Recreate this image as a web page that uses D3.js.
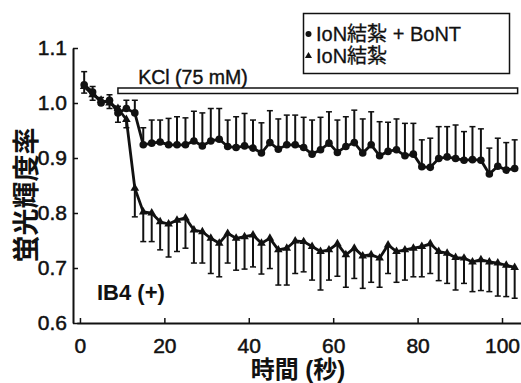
<!DOCTYPE html>
<html>
<head>
<meta charset="utf-8">
<script src="https://cdn.jsdelivr.net/npm/d3@7"></script>
<style>
  body { margin: 0; background: #fff; }
  text { font-family: "Liberation Sans", Arial, "Noto Sans CJK JP", sans-serif; fill: #111; }
</style>
</head>
<body>
<svg width="521" height="383"></svg>
<script>
// time (s)
const time = [1, 3, 5, 7, 9, 11, 13, 15, 17, 19, 21, 23, 25, 27, 29, 31, 33, 35, 37, 39,
  41, 43, 45, 47, 49, 51, 53, 55, 57, 59, 61, 63, 65, 67, 69, 71, 73, 75, 77, 79,
  81, 83, 85, 87, 89, 91, 93, 95, 97, 99, 101, 103];

// IoN結紮 + BoNT (circles), error bars drawn upward
const bontMean = [1.033, 1.02, 1.0, 1.005, 0.982, 0.99, 0.982, 0.924, 0.927, 0.929,
  0.924, 0.924, 0.924, 0.931, 0.922, 0.931, 0.934, 0.921, 0.919, 0.922,
  0.918, 0.909, 0.928, 0.916, 0.924, 0.924, 0.919, 0.907, 0.915, 0.927,
  0.91, 0.921, 0.928, 0.909, 0.924, 0.904, 0.912, 0.915, 0.904, 0.907,
  0.884, 0.883, 0.899, 0.902, 0.899, 0.896, 0.897, 0.896, 0.871, 0.885,
  0.878, 0.881];
const bontErr = [0.024, 0.01, 0.01, 0.01, 0.012, 0.015, 0.023, 0.031, 0.042, 0.04,
  0.048, 0.051, 0.049, 0.054, 0.06, 0.059, 0.056, 0.048, 0.056, 0.059,
  0.051, 0.055, 0.058, 0.055, 0.054, 0.054, 0.055, 0.062, 0.059, 0.057,
  0.059, 0.054, 0.059, 0.062, 0.06, 0.062, 0.053, 0.056, 0.059, 0.056,
  0.049, 0.053, 0.058, 0.055, 0.061, 0.052, 0.06, 0.057, 0.047, 0.051,
  0.05, 0.052];

// IoN結紮 (triangles), error bars drawn downward
const ionMean = [1.03, 1.015, 1.005, 1.0, 0.99, 0.97, 0.845, 0.802, 0.8, 0.784,
  0.78, 0.787, 0.791, 0.769, 0.766, 0.754, 0.745, 0.763, 0.754, 0.757,
  0.76, 0.745, 0.754, 0.733, 0.736, 0.749, 0.748, 0.739, 0.73, 0.733,
  0.744, 0.724, 0.736, 0.722, 0.724, 0.718, 0.742, 0.73, 0.733, 0.736,
  0.739, 0.744, 0.73, 0.727, 0.719, 0.718, 0.711, 0.715, 0.711, 0.709,
  0.705, 0.701];
const ionErr = [0.012, 0.01, 0.008, 0.01, 0.025, 0.015, 0.052, 0.054, 0.052, 0.051,
  0.06, 0.057, 0.055, 0.06, 0.057, 0.064, 0.061, 0.054, 0.058, 0.059,
  0.058, 0.056, 0.055, 0.064, 0.067, 0.059, 0.055, 0.061, 0.07, 0.055,
  0.059, 0.059, 0.055, 0.059, 0.05, 0.053, 0.052, 0.056, 0.055, 0.052,
  0.055, 0.054, 0.053, 0.055, 0.059, 0.046, 0.054, 0.056, 0.054, 0.06,
  0.057, 0.056];

const xTicks = [0, 20, 40, 60, 80, 100];
const yTicks = [0.6, 0.7, 0.8, 0.9, 1.0, 1.1];
const kclSpan = [9, 103.7];
const legendLabels = ["IoN結紮 + BoNT", "IoN結紮"];

const svg = d3.select("svg");

const x = d3.scaleLinear().domain([-0.7, 104.5]).range([77, 521]);
const y = d3.scaleLinear().domain([0.6, 1.1]).range([323, 48]);

// axes, ticks pointing inward
const xAxis = svg.append("g")
    .attr("transform", "translate(0,323)")
    .call(d3.axisTop(x).tickValues(xTicks).tickSize(5).tickSizeOuter(0).tickFormat(d3.format("d")));
xAxis.selectAll("text").attr("y", 15).attr("dy", "0.71em");
const yAxis = svg.append("g")
    .attr("transform", "translate(73,0)")
    .call(d3.axisRight(y).tickValues(yTicks).tickSize(5).tickSizeOuter(0).tickFormat(d3.format(".1f")));
yAxis.selectAll("text").attr("x", -6).attr("text-anchor", "end");
svg.selectAll(".domain").attr("stroke", "#111").attr("stroke-width", 2);
svg.selectAll(".tick line").attr("stroke", "#111").attr("stroke-width", 1.5);
svg.selectAll(".tick text").attr("font-size", 21).attr("fill", "#111")
    .attr("stroke", "#111").attr("stroke-width", 0.5)
    .style("font-family", "'Liberation Sans', Arial, sans-serif");

const pts = time.map((t, i) => ({t, b: bontMean[i], be: bontErr[i], n: ionMean[i], ne: ionErr[i]}));

// error bars
const bars = svg.append("g").attr("stroke", "#111").attr("stroke-width", 2);
pts.forEach(p => {
  bars.append("line").attr("x1", x(p.t)).attr("x2", x(p.t))
      .attr("y1", y(p.b)).attr("y2", y(p.b + p.be));
  bars.append("line").attr("x1", x(p.t) - 3).attr("x2", x(p.t) + 3)
      .attr("y1", y(p.b + p.be)).attr("y2", y(p.b + p.be)).attr("stroke-width", 1.5);
  bars.append("line").attr("x1", x(p.t)).attr("x2", x(p.t))
      .attr("y1", y(p.n)).attr("y2", y(p.n - p.ne));
  bars.append("line").attr("x1", x(p.t) - 3).attr("x2", x(p.t) + 3)
      .attr("y1", y(p.n - p.ne)).attr("y2", y(p.n - p.ne)).attr("stroke-width", 1.5);
});

// lines
svg.append("path").datum(pts)
    .attr("fill", "none").attr("stroke", "#111").attr("stroke-width", 2.8)
    .attr("d", d3.line().x(p => x(p.t)).y(p => y(p.b)));
svg.append("path").datum(pts)
    .attr("fill", "none").attr("stroke", "#111").attr("stroke-width", 2.8)
    .attr("d", d3.line().x(p => x(p.t)).y(p => y(p.n)));

// markers
svg.append("g").selectAll("circle").data(pts).enter().append("circle")
    .attr("cx", p => x(p.t)).attr("cy", p => y(p.b)).attr("r", 3.8).attr("fill", "#111");
const tri = d3.symbol().type(d3.symbolTriangle).size(32);
svg.append("g").selectAll("path").data(pts).enter().append("path")
    .attr("d", tri).attr("fill", "#111")
    .attr("transform", p => `translate(${x(p.t)},${y(p.n)})`);

// KCl bar
svg.append("rect")
    .attr("x", x(kclSpan[0])).attr("y", 88)
    .attr("width", x(kclSpan[1]) - x(kclSpan[0])).attr("height", 5.5)
    .attr("fill", "#fff").attr("stroke", "#111").attr("stroke-width", 1.5);
svg.append("text").attr("x", 193).attr("y", 84).attr("text-anchor", "middle")
    .attr("font-size", 19.5).attr("stroke", "#111").attr("stroke-width", 0.4)
    .text("KCl (75 mM)");

// legend
svg.append("rect").attr("x", 303.5).attr("y", 13.5).attr("width", 206).attr("height", 60)
    .attr("fill", "#fff").attr("stroke", "#111").attr("stroke-width", 1.5);
svg.append("circle").attr("cx", 308.5).attr("cy", 34).attr("r", 3).attr("fill", "#111");
svg.append("path").attr("d", d3.symbol().type(d3.symbolTriangle).size(22))
    .attr("transform", "translate(308.5,56)").attr("fill", "#111");
legendLabels.forEach((l, i) => {
  svg.append("text").attr("x", 316).attr("y", 41 + i * 21.5).attr("font-size", 20)
      .attr("stroke", "#111").attr("stroke-width", 0.3).text(l);
});

// annotations and titles
svg.append("text").attr("x", 97).attr("y", 300).attr("font-size", 22)
    .attr("font-weight", "bold").text("IB4 (+)");
svg.append("text").attr("x", 298).attr("y", 378).attr("text-anchor", "middle")
    .attr("font-size", 24).attr("font-weight", "bold").text("時間 (秒)");
svg.append("text").attr("transform", "translate(36,195) rotate(-90)")
    .attr("text-anchor", "middle").attr("font-size", 27).attr("font-weight", "bold")
    .text("蛍光輝度率");
</script>
</body>
</html>
